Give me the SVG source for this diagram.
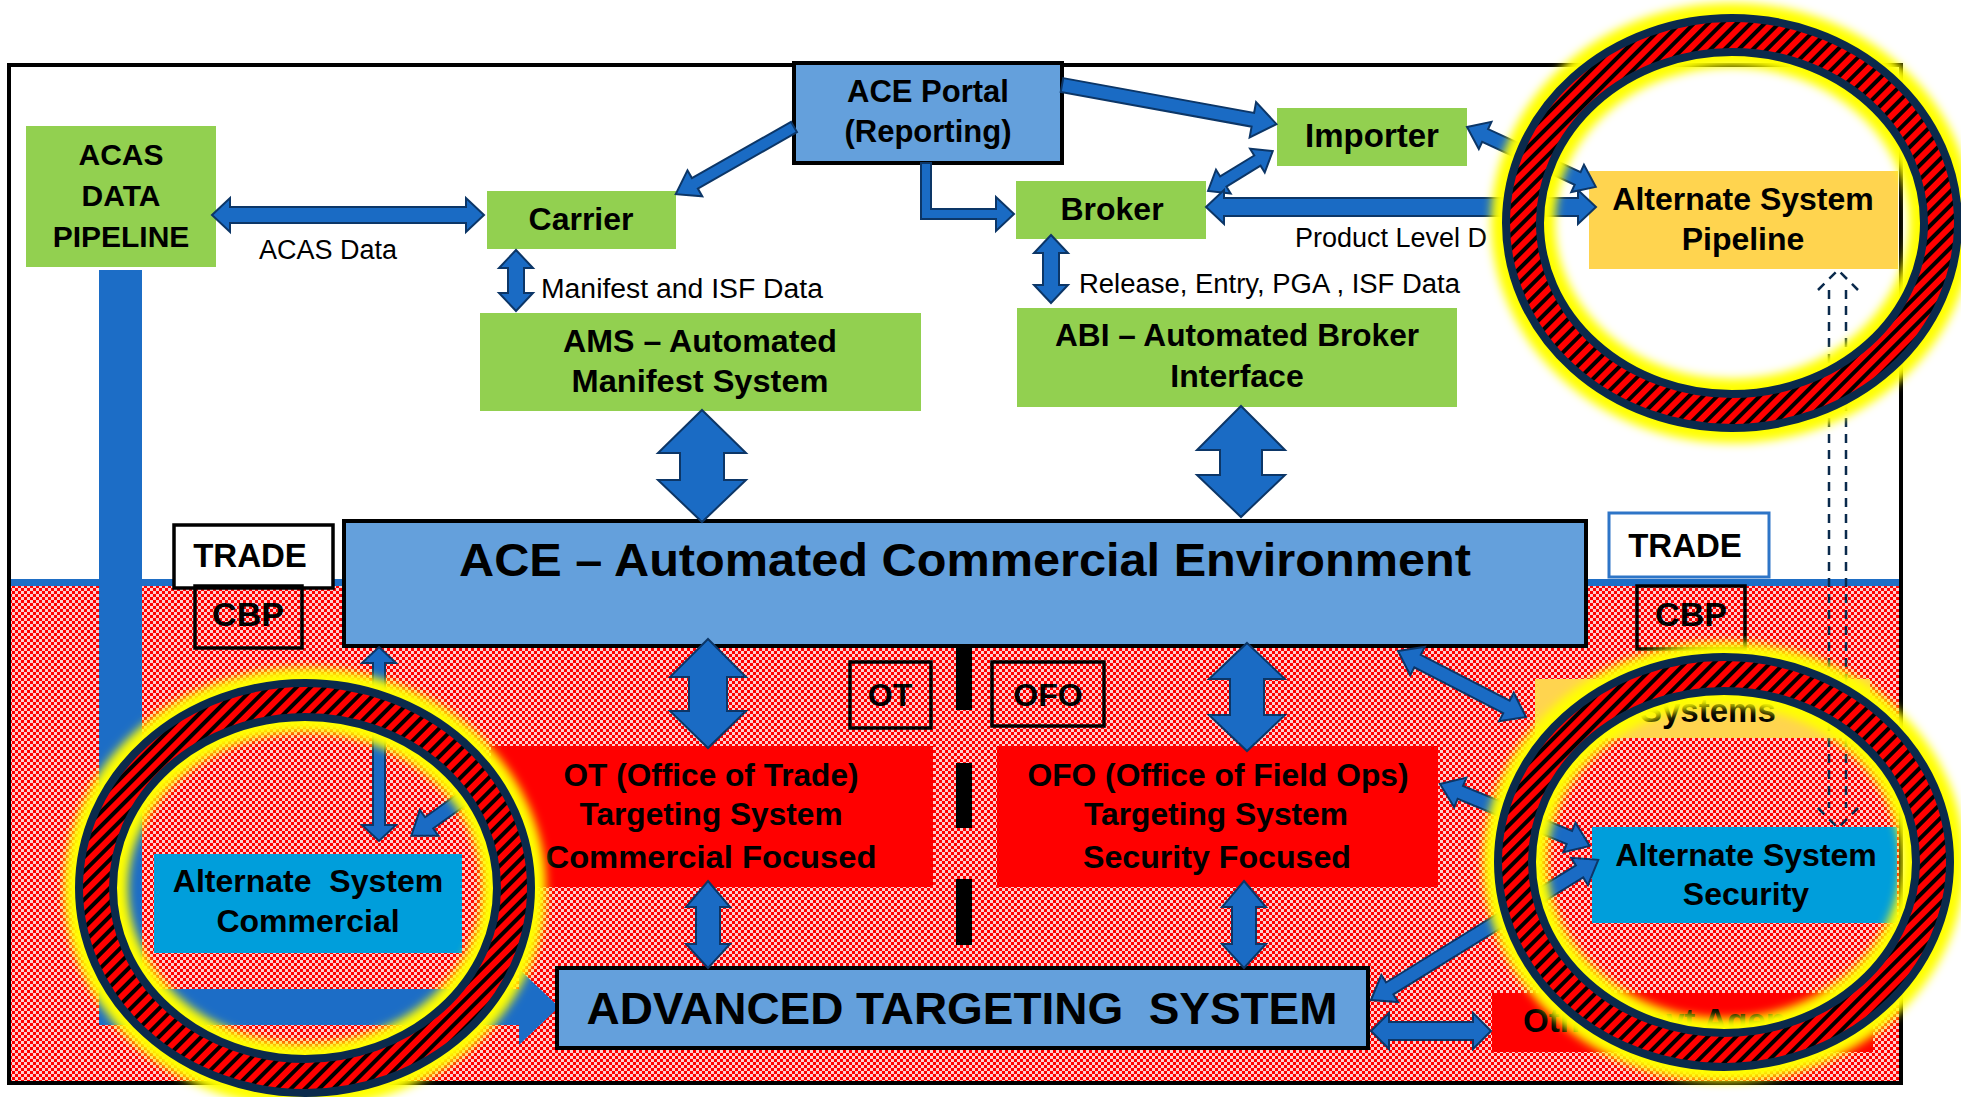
<svg xmlns="http://www.w3.org/2000/svg" xmlns:xlink="http://www.w3.org/1999/xlink" width="1961" height="1097" viewBox="0 0 1961 1097">
<style>
.b{font-family:"Liberation Sans",Arial,sans-serif;font-weight:bold;fill:#000;text-anchor:middle}
.r{font-family:"Liberation Sans",Arial,sans-serif;font-weight:normal;fill:#000;font-size:27px}
.green{fill:#92D050}
.lblue{fill:#64A0DC;stroke:#000;stroke-width:4}
.red{fill:#FF0000}
.yel{fill:#FFD44F}
.cyan{fill:#009EDB}
.tag{fill:none;stroke:#000;stroke-width:3.5}
.arrow{fill:#1A6BC4;stroke:#0C3667;stroke-width:2;stroke-linejoin:miter}
.dash{fill:none;stroke:#0A2A4C;stroke-width:2.5;stroke-dasharray:9 7}
</style>
<defs>
<pattern id="dots" width="6" height="6" patternUnits="userSpaceOnUse">
<rect width="6" height="6" fill="#FF0000"/>
<rect width="3" height="3" fill="#FFFFFF" fill-opacity="0.8"/>
<rect x="3" y="3" width="3" height="3" fill="#FFFFFF" fill-opacity="0.8"/>
</pattern>
<pattern id="hatch" width="10" height="10" patternUnits="userSpaceOnUse" patternTransform="rotate(45)">
<rect width="10" height="10" fill="#FF0000"/>
<rect width="4" height="10" fill="#000"/>
</pattern>
<filter id="glow" x="-30%" y="-30%" width="160%" height="160%">
<feGaussianBlur stdDeviation="5"/>
</filter>
<g id="ring">
<ellipse rx="209" ry="188" fill="none" stroke="#FFFF00" stroke-width="64" filter="url(#glow)"/>
<ellipse rx="209" ry="188" fill="none" stroke="#0A2A4C" stroke-width="42"/>
<ellipse rx="209" ry="188" fill="none" stroke="url(#hatch)" stroke-width="26"/>
</g>
</defs>

<rect width="1961" height="1097" fill="#FFFFFF"/>

<g id="zones">
<rect x="11" y="586" width="1888" height="495" fill="url(#dots)"/>
<rect x="11" y="579" width="1888" height="7" fill="#1F6EC5"/>
<rect x="9" y="65" width="1892" height="1018" fill="none" stroke="#000" stroke-width="4"/>
<g fill="#000">
<rect x="956" y="648" width="16" height="62"/>
<rect x="956" y="763" width="16" height="65"/>
<rect x="956" y="879" width="16" height="66"/>
</g>
</g>

<g id="acas-pipeline-bar" fill="#1C6DC6">
<rect x="99" y="270" width="43" height="755"/>
<rect x="99" y="989" width="421" height="36"/>
<polygon points="519,969 559,1007 519,1045"/>
</g>

<g id="acas">
<rect class="green" x="26" y="126" width="190" height="141"/>
<text class="b" font-size="30" x="121" y="165">ACAS</text>
<text class="b" font-size="30" x="121" y="206">DATA</text>
<text class="b" font-size="30" x="121" y="247">PIPELINE</text>
</g>

<g id="carrier">
<rect class="green" x="487" y="191" width="189" height="58"/>
<text class="b" font-size="32" x="581" y="230">Carrier</text>
</g>

<g id="ams">
<rect class="green" x="480" y="313" width="441" height="98"/>
<text class="b" font-size="32" x="700" y="352" textLength="274" lengthAdjust="spacingAndGlyphs">AMS – Automated</text>
<text class="b" font-size="32" x="700" y="392" textLength="257" lengthAdjust="spacingAndGlyphs">Manifest System</text>
</g>

<g id="ace-portal">
<rect class="lblue" x="794" y="63" width="268" height="100"/>
<text class="b" font-size="31" x="928" y="102">ACE Portal</text>
<text class="b" font-size="31" x="928" y="142">(Reporting)</text>
</g>

<g id="importer">
<rect class="green" x="1277" y="108" width="190" height="58"/>
<text class="b" font-size="33" x="1372" y="147">Importer</text>
</g>

<g id="broker">
<rect class="green" x="1016" y="181" width="190" height="58"/>
<text class="b" font-size="32" x="1112" y="220">Broker</text>
</g>

<g id="abi">
<rect class="green" x="1017" y="308" width="440" height="99"/>
<text class="b" font-size="32" x="1237" y="346" textLength="364" lengthAdjust="spacingAndGlyphs">ABI – Automated Broker</text>
<text class="b" font-size="32" x="1237" y="387">Interface</text>
</g>

<g id="alt-pipeline">
<rect class="yel" x="1589" y="171" width="309" height="98"/>
<text class="b" font-size="32" x="1743" y="210">Alternate System</text>
<text class="b" font-size="32" x="1743" y="250">Pipeline</text>
</g>

<g id="trade-left">
<rect x="174" y="525" width="159" height="63" fill="#FFFFFF" stroke="#000" stroke-width="3.5"/>
<text class="b" font-size="33" x="250" y="567">TRADE</text>
</g>
<g id="cbp-left">
<rect class="tag" x="195" y="586" width="107" height="62"/>
<text class="b" font-size="34" x="248" y="626">CBP</text>
</g>

<g id="ace">
<rect class="lblue" x="344" y="521" width="1242" height="125"/>
<text class="b" font-size="46" x="965" y="576" textLength="1012" lengthAdjust="spacingAndGlyphs">ACE – Automated Commercial Environment</text>
</g>

<g id="trade-right">
<rect x="1609" y="513" width="160" height="64" fill="#FFFFFF" stroke="#2E75C7" stroke-width="3"/>
<text class="b" font-size="33" x="1685" y="557">TRADE</text>
</g>
<g id="cbp-right">
<rect class="tag" x="1637" y="586" width="108" height="63"/>
<text class="b" font-size="34" x="1691" y="626">CBP</text>
</g>

<g id="ot-tag">
<rect class="tag" x="850" y="662" width="81" height="66"/>
<text class="b" font-size="32" x="890" y="706">OT</text>
</g>
<g id="ofo-tag">
<rect class="tag" x="992" y="662" width="112" height="64"/>
<text class="b" font-size="32" x="1048" y="706">OFO</text>
</g>

<g id="ot-system">
<rect class="red" x="491" y="746" width="442" height="141"/>
<text class="b" font-size="32" x="711" y="786" textLength="295" lengthAdjust="spacingAndGlyphs">OT (Office of Trade)</text>
<text class="b" font-size="32" x="711" y="825" textLength="263" lengthAdjust="spacingAndGlyphs">Targeting System</text>
<text class="b" font-size="32" x="711" y="868" textLength="331" lengthAdjust="spacingAndGlyphs">Commercial Focused</text>
</g>

<g id="ofo-system">
<rect class="red" x="997" y="746" width="441" height="141"/>
<text class="b" font-size="32" x="1218" y="786" textLength="381" lengthAdjust="spacingAndGlyphs">OFO (Office of Field Ops)</text>
<text class="b" font-size="32" x="1216" y="825" textLength="264" lengthAdjust="spacingAndGlyphs">Targeting System</text>
<text class="b" font-size="32" x="1217" y="868" textLength="268" lengthAdjust="spacingAndGlyphs">Security Focused</text>
</g>

<g id="ats">
<rect class="lblue" x="557" y="968" width="811" height="80"/>
<text class="b" font-size="45" x="962" y="1024" textLength="751" lengthAdjust="spacingAndGlyphs" xml:space="preserve">ADVANCED TARGETING  SYSTEM</text>
</g>

<g id="alt-commercial">
<rect class="cyan" x="154" y="854" width="308" height="99"/>
<text class="b" font-size="32" x="308" y="892" xml:space="preserve">Alternate  System</text>
<text class="b" font-size="32" x="308" y="932">Commercial</text>
</g>

<g id="other-systems">
<rect class="yel" x="1535" y="679" width="335" height="59"/>
<text class="b" font-size="33" x="1640" y="722" style="text-anchor:start">Systems</text>
</g>

<g id="other-agencies">
<rect class="red" x="1492" y="993" width="381" height="59"/>
<text class="b" font-size="33" x="1523" y="1032" style="text-anchor:start">Other Govt Agencies</text>
</g>

<g id="alt-security">
<rect class="cyan" x="1592" y="827" width="305" height="96"/>
<text class="b" font-size="32" x="1746" y="866">Alternate System</text>
<text class="b" font-size="32" x="1746" y="905">Security</text>
</g>

<g id="labels">
<text class="r" x="259" y="259" textLength="138" lengthAdjust="spacingAndGlyphs">ACAS Data</text>
<text class="r" x="541" y="298" textLength="282" lengthAdjust="spacingAndGlyphs">Manifest and ISF Data</text>
<text class="r" x="1079" y="293" textLength="381" lengthAdjust="spacingAndGlyphs">Release, Entry, PGA , ISF Data</text>
<text class="r" x="1295" y="247">Product Level D</text>
</g>

<g id="connectors">
<polygon class="arrow" points="212,215 230,198 230,207 466,207 466,198 484,215 466,232 466,223 230,223 230,232"/>
<polygon class="arrow" points="516,250 533,268 524,268 524,293 533,293 516,311 499,293 508,293 508,268 499,268"/>
<polygon class="arrow" points="1051,235 1068,253 1059,253 1059,285 1068,285 1051,303 1034,285 1043,285 1043,253 1034,253"/>
<polygon class="arrow" transform="translate(794,127) rotate(150.4)" points="0,-6 114,-6 114,-15 136,0 114,15 114,6 0,6"/>
<polygon class="arrow" transform="translate(1062,85) rotate(10.33)" points="0,-7 194,-7 194,-18 218,0 194,18 194,7 0,7"/>
<path class="arrow" d="M921,163 L921,219 L996,219 L996,231 L1014,214 L996,197 L996,209 L931,209 L931,163 Z"/>
<polygon class="arrow" transform="translate(1208,191) rotate(-31.6)" points="0,0 18,-14 18,-6 58,-6 58,-14 76,0 58,14 58,6 18,6 18,14"/>
<polygon class="arrow" points="1206,207 1224,190 1224,198 1578,198 1578,190 1596,207 1578,224 1578,216 1224,216 1224,224"/>
<polygon class="arrow" transform="translate(1467,127) rotate(24.94)" points="0,0 20,-15 20,-7 122,-7 122,-15 142,0 122,15 122,7 20,7 20,15"/>
<path class="arrow" d="M702,410 L746,453 L724,453 L724,480 L746,480 L702,522 L658,480 L680,480 L680,453 L658,453 Z"/>
<path class="arrow" d="M1241,406 L1285,450 L1262,450 L1262,475 L1285,475 L1241,517 L1197,475 L1220,475 L1220,450 L1197,450 Z"/>
<path class="arrow" d="M708,639 L746,677 L727,677 L727,711 L746,711 L708,748 L670,711 L689,711 L689,677 L670,677 Z"/>
<path class="arrow" d="M1247,643 L1285,679 L1264,679 L1264,715 L1285,715 L1247,751 L1209,715 L1230,715 L1230,679 L1209,679 Z"/>
<path class="arrow" d="M708,881 L730,907 L720,907 L720,944 L730,944 L708,968 L686,944 L696,944 L696,907 L686,907 Z"/>
<path class="arrow" d="M1244,881 L1266,907 L1256,907 L1256,944 L1266,944 L1244,968 L1222,944 L1232,944 L1232,907 L1222,907 Z"/>
<path class="arrow" d="M379,647 L396,663 L385,663 L385,825 L396,825 L379,841 L362,825 L373,825 L373,663 L362,663 Z"/>
<polygon class="arrow" transform="translate(490,779) rotate(144.2)" points="0,-7 75,-7 75,-16 97,0 75,16 75,7 0,7"/>
<polygon class="arrow" transform="translate(1398,651) rotate(27.27)" points="0,0 22,-16 22,-7 122,-7 122,-16 144,0 122,16 122,7 22,7 22,16"/>
<polygon class="arrow" transform="translate(1440,784) rotate(22.46)" points="0,0 22,-16 22,-7 140,-7 140,-16 162,0 140,16 140,7 22,7 22,16"/>
<polygon class="arrow" transform="translate(1371,1000) rotate(-31.66)" points="0,0 22,-16 22,-7 245,-7 245,-16 267,0 245,16 245,7 22,7 22,16"/>
<polygon class="arrow" points="1371,1031 1389,1013 1389,1022 1473,1022 1473,1013 1491,1031 1473,1049 1473,1040 1389,1040 1389,1049"/>
<path class="dash" d="M1829,290 V808 M1846,290 V808 M1818,290 L1838,270 L1858,290 M1818,808 L1838,828 L1858,808"/>
</g>

<g id="highlights">
<use xlink:href="#ring" href="#ring" transform="translate(1732,223)"/>
<use xlink:href="#ring" href="#ring" transform="translate(1724,862)"/>
<use xlink:href="#ring" href="#ring" transform="translate(305,888)"/>
</g>
</svg>
